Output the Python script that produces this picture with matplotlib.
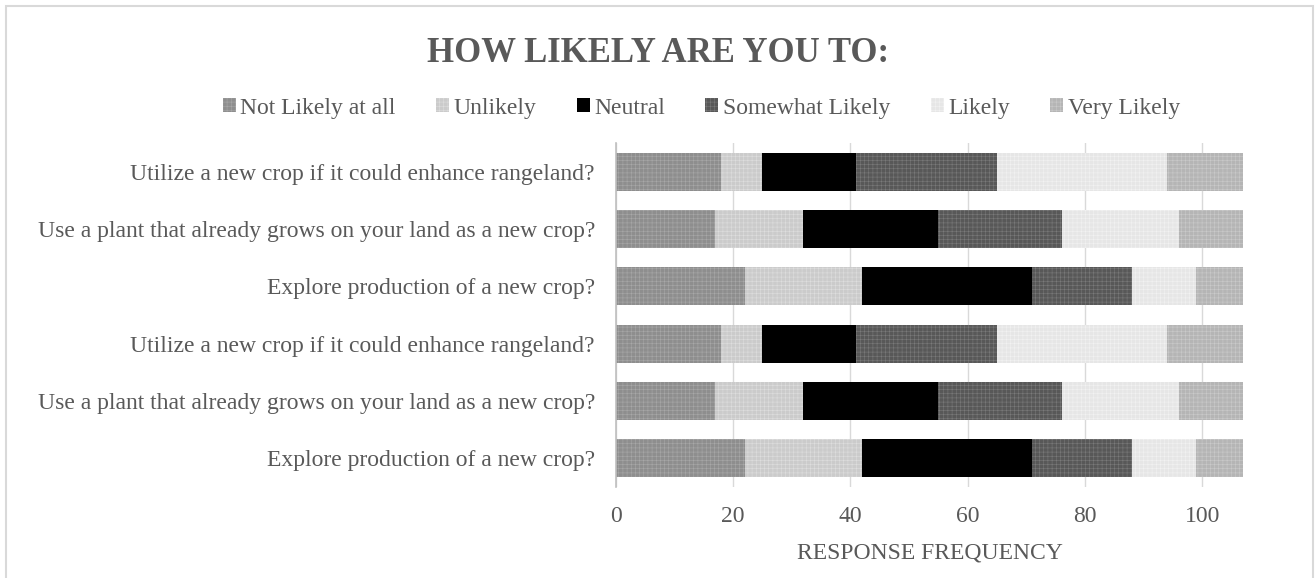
import matplotlib.pyplot as plt
from matplotlib.patches import Rectangle
import numpy as np

# survey questions, listed bottom to top as they are stacked on the axis
questions = [
    "Explore production of a new crop?",
    "Use a plant that already grows on your land as a new crop?",
    "Utilize a new crop if it could enhance rangeland?",
    "Explore production of a new crop?",
    "Use a plant that already grows on your land as a new crop?",
    "Utilize a new crop if it could enhance rangeland?",
]

responses = ["Not Likely at all", "Unlikely", "Neutral",
             "Somewhat Likely", "Likely", "Very Likely"]

not_likely = [22, 17, 18, 22, 17, 18]
unlikely = [20, 15, 7, 20, 15, 7]
neutral = [29, 23, 16, 29, 23, 16]
somewhat = [17, 21, 24, 17, 21, 24]
likely = [11, 20, 29, 11, 20, 29]
very_likely = [8, 11, 13, 8, 11, 13]

series = [not_likely, unlikely, neutral, somewhat, likely, very_likely]

# fill / dot-texture colour for each response
fills = ["#8e8e8e", "#cbcbcb", "#000000", "#585858", "#e6e6e6", "#b5b5b5"]
dots = ["#a8a8a8", "#dedede", "#000000", "#7a7a7a", "#f2f2f2", "#cacaca"]
hatches = ["++++", "++++", None, "++++", "++++", "++++"]

TEXT = "#595959"
SERIF = ["Liberation Serif", "DejaVu Serif"]

plt.rcParams["font.family"] = SERIF
plt.rcParams["hatch.linewidth"] = 0.4

fig = plt.figure(figsize=(13.16, 5.78), dpi=100)
ax = fig.add_axes([0.4679, 0.1574, 0.4769, 0.5952])

y = np.arange(len(questions))
left = np.zeros(len(questions))
for name, vals, fc, dc, h in zip(responses, series, fills, dots, hatches):
    ax.barh(y, vals, left=left, height=0.66, color=fc, edgecolor=dc,
            hatch=h, linewidth=0, label=name, zorder=2)
    left += np.array(vals)

ax.set_xlim(0, 107)
ax.set_ylim(-0.5, len(questions) - 0.5)
ax.set_xticks([0, 20, 40, 60, 80, 100])
ax.set_yticks(y)
ax.set_yticklabels(questions)
ax.tick_params(axis="both", length=0, labelsize=17, labelcolor=TEXT)
ax.tick_params(axis="x", pad=14)
ax.tick_params(axis="y", pad=15)

ax.grid(axis="x", color="#d9d9d9", linewidth=1, zorder=0)
for s in ["top", "right", "bottom"]:
    ax.spines[s].set_visible(False)
ax.spines["left"].set_color("#bfbfbf")
ax.spines["left"].set_linewidth(1.2)

ax.set_xlabel("RESPONSE FREQUENCY", fontsize=17, color=TEXT, labelpad=11)

fig.text(0.5, 0.907, "HOW LIKELY ARE YOU TO:", ha="center", va="center",
         fontsize=25, fontweight="bold", color=TEXT)

fig.legend(loc="center", bbox_to_anchor=(0.533, 0.813), ncol=6, frameon=False,
           fontsize=17, labelcolor=TEXT, handlelength=0.55, handleheight=0.55,
           handletextpad=0.2, columnspacing=1.7)

# chart border
fig.patches.append(Rectangle((6 / 1316, -0.05), 1307 / 1316, 1.05 - 6 / 578,
                             transform=fig.transFigure, fill=False,
                             edgecolor="#d9d9d9", linewidth=1.5))

fig.savefig("out.png", dpi=100)
